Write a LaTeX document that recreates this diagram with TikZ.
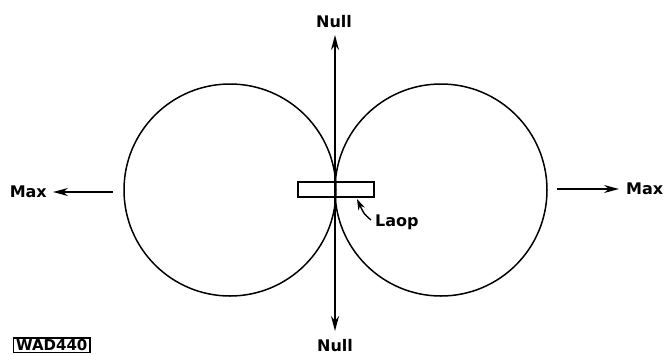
\documentclass[tikz,border=0pt]{standalone}
\usepackage{fontspec}
\setmainfont{DejaVu Sans}
\usetikzlibrary{arrows.meta}
\begin{document}
\begin{tikzpicture}[x=1pt,y=-1pt,
  lbl/.style={font=\bfseries\fontsize{16}{19}\selectfont, inner sep=0pt},
  lobe/.style={draw, circle, line width=1.5pt, minimum size=212pt, inner sep=0pt},
  ln/.style={line width=1.4pt},
  arr/.style={ln, -{Stealth[length=15pt,width=8pt]}},
  loopbox/.style={draw, line width=1.6pt, minimum width=76pt, minimum height=15pt, inner sep=0pt},
  tag/.style={draw, line width=1.3pt, font=\bfseries\fontsize{15}{17}\selectfont, inner xsep=2.5pt, inner ysep=1.5pt}]
\useasboundingbox (0,0) rectangle (664,354);
\node[lobe] (L) at (230,190) {};
\node[lobe] (R) at (441,190) {};
\coordinate (top) at (335,35);
\coordinate (bot) at (335,331);
\coordinate (mid) at (335,190);
\node[lbl, anchor=south] (nt) at (334,28) {Null};
\node[lbl, anchor=north] (nb) at (335,339) {Null};
\draw[arr] (mid) -- (top);
\draw[arr] (mid) -- (bot);
\node[loopbox] (box) at (336,189.5) {};
\node[lbl, anchor=east] (maxl) at (47,192) {Max};
\node[lbl, anchor=west] (maxr) at (626,189) {Max};
\coordinate (la) at (113,192);
\coordinate (lt) at (53,192);
\coordinate (ra) at (557,189);
\coordinate (rt) at (619,189);
\draw[arr] (la) -- (lt);
\draw[arr] (ra) -- (rt);
\node[lbl, anchor=west] (lp) at (375,222) {Laop};
\coordinate (lptip) at (357,199);
\draw[ln, -{Stealth[length=11pt,width=7pt]}] (lp.west) ++(-4,-2) .. controls (364,214) .. (lptip);
\node[tag, anchor=south west] (wad) at (13,353) {WAD440};
\end{tikzpicture}
\end{document}
